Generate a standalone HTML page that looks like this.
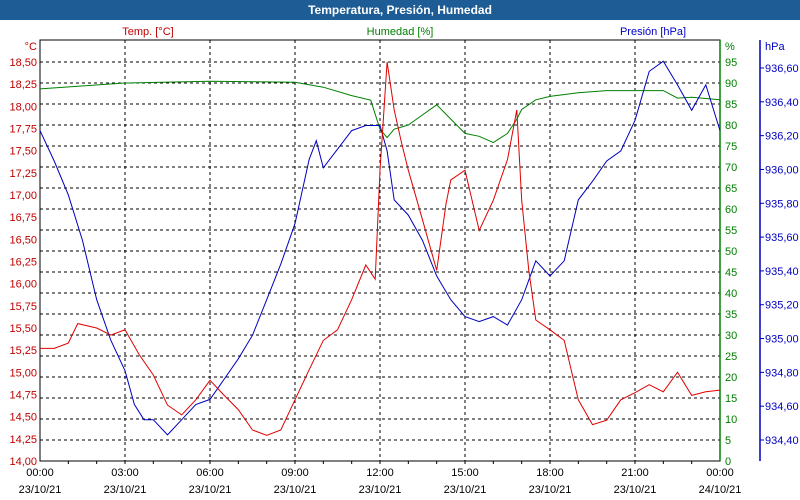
<!DOCTYPE html>
<html><head><meta charset="utf-8"><style>
body{margin:0;background:#fff;font-family:"Liberation Sans",sans-serif}
#wrap{width:800px;height:500px;position:relative;overflow:hidden;background:#fff}
#title{position:absolute;left:0;top:0;width:800px;height:20px;background:#1d5c94;color:#fff;font-weight:bold;font-size:12px;text-align:center;line-height:20px}
svg{position:absolute;left:0;top:0}
text{font-family:"Liberation Sans",sans-serif;font-size:11px}
</style></head><body>
<div id="wrap">
<div id="title">Temperatura, Presión, Humedad</div>
<svg id="c" width="800" height="500"></svg>
</div>
<script>
const tempHours=[0,0.5,1,1.33,2,2.5,3,3.5,4,4.5,5,5.5,6,6.5,7,7.5,8,8.5,9,9.5,10,10.5,11,11.5,11.83,12,12.25,12.5,12.75,13,13.5,14,14.33,14.5,15,15.5,16,16.5,16.83,17,17.25,17.5,18,18.5,19,19.5,20,20.5,21,21.5,22,22.5,23,23.5,24];
const tempValues=[15.27,15.27,15.33,15.55,15.5,15.42,15.48,15.2,14.97,14.63,14.52,14.69,14.91,14.74,14.58,14.35,14.29,14.35,14.69,15.03,15.36,15.48,15.82,16.21,16.05,17.28,18.5,17.96,17.6,17.28,16.72,16.15,16.9,17.17,17.28,16.6,16.94,17.4,17.96,16.94,16.15,15.59,15.48,15.36,14.69,14.41,14.46,14.69,14.77,14.86,14.78,15.0,14.74,14.78,14.8];
const humHours=[0,3,6,9,10,11,11.67,12,12.25,12.5,13,13.5,14,14.5,15,15.5,16,16.5,16.83,17,17.5,18,19,20,21,22,22.5,23,24];
const humValues=[88.6,90,90.4,90.2,89,87,85.9,79,77,79,80,82.4,84.8,81.4,78,77.3,75.8,78,81.4,83.7,86,86.8,87.7,88.2,88.2,88.2,86.4,86.6,86];
const presHours=[0,0.5,1,1.5,2,2.5,3,3.33,3.67,4,4.5,5,5.5,6,6.5,7,7.5,8,8.5,9,9.5,9.75,10,10.5,11,11.5,12,12.25,12.5,13,13.5,14,14.5,15,15.5,16,16.5,17,17.5,18,18.5,19,19.5,20,20.5,21,21.5,22,22.5,23,23.5,24];
const presValues=[936.23,936.05,935.85,935.58,935.23,934.99,934.81,934.61,934.52,934.52,934.43,934.52,934.61,934.64,934.76,934.88,935.02,935.23,935.44,935.68,936.06,936.17,936.01,936.12,936.23,936.26,936.26,936.11,935.82,935.73,935.58,935.37,935.23,935.13,935.1,935.13,935.08,935.23,935.46,935.37,935.46,935.82,935.93,936.05,936.11,936.29,936.58,936.64,936.5,936.35,936.5,936.23];
const tempTicks=[14,14.25,14.5,14.75,15,15.25,15.5,15.75,16,16.25,16.5,16.75,17,17.25,17.5,17.75,18,18.25,18.5];
const humTicks=[0,5,10,15,20,25,30,35,40,45,50,55,60,65,70,75,80,85,90,95];
const presTicks=[934.4,934.6,934.8,935.0,935.2,935.4,935.6,935.8,936.0,936.2,936.4,936.6];
const xTicks=[0,3,6,9,12,15,18,21,24];
const xDates=["23/10/21","23/10/21","23/10/21","23/10/21","23/10/21","23/10/21","23/10/21","23/10/21","24/10/21"];

const L=40,R=720,T=40,B=461;
const x=h=>L+h*(R-L)/24;
const yT=v=>B-(v-14)*(399/4.5);
const yH=v=>B-v*(399/95);
const yP=v=>440-(v-934.4)*(372/2.2);
const S=document.getElementById('c');
const NS='http://www.w3.org/2000/svg';
function mk(tag,attrs,txt){const e=document.createElementNS(NS,tag);for(const k in attrs)e.setAttribute(k,attrs[k]);if(txt!==undefined)e.textContent=txt;S.appendChild(e);return e;}
const fmt=(v,d)=>v.toFixed(d).replace('.',',');
for(const t of xTicks){if(t>0&&t<24){const g=mk('line',{x1:x(t),x2:x(t),y1:T,y2:B,stroke:'#000','stroke-dasharray':'3,3','stroke-width':1});

}}
for(const v of humTicks){if(v>0){const g=mk('line',{x1:L,x2:R,y1:yH(v),y2:yH(v),stroke:'#000','stroke-dasharray':'3,3','stroke-width':1});

}}
const fr=mk('rect',{x:L,y:T,width:R-L,height:B-T,fill:'none',stroke:'#000'});


mk('line',{x1:R,x2:R,y1:T,y2:B,stroke:'#008000','stroke-width':1.5});
mk('line',{x1:760,x2:760,y1:T,y2:B,stroke:'#0000c0','stroke-width':1.5});
for(let i=0;i<xTicks.length;i++){const t=xTicks[i];
const a=mk('text',{x:x(t),y:476,'text-anchor':'middle',fill:'#000'},(t%24===0?'00':String(t).padStart(2,'0'))+':00');


const b=mk('text',{x:x(t),y:493,'text-anchor':'middle',fill:'#000'},xDates[i]);

}
for(let h=1;h<24;h++)mk('line',{x1:x(h),x2:x(h),y1:B,y2:B+3,stroke:'#000'});
for(const v of tempTicks){const e=mk('text',{x:37,y:yT(v)+4,'text-anchor':'end',fill:'#c00000'},fmt(v,2));

}
for(const v of humTicks){const e=mk('text',{x:725,y:yH(v)+4,fill:'#008000'},String(v));

}
for(const v of presTicks){mk('line',{x1:760,x2:764,y1:yP(v),y2:yP(v),stroke:'#0000c0'});
const e=mk('text',{x:765,y:yP(v)+4,fill:'#0000c0'},fmt(v,2));

}
const u=[['°C',37,50,'end','#c00000','temp-unit'],['%',725,50,'start','#008000','hum-unit'],['hPa',765,50,'start','#0000c0','pres-unit'],
['Temp. [°C]',148,35,'middle','#c00000','temp-axis-title'],['Humedad [%]',400,35,'middle','#008000','hum-axis-title'],['Presión [hPa]',653,35,'middle','#0000c0','pres-axis-title']];
for(const a of u){const e=mk('text',{x:a[1],y:a[2],'text-anchor':a[3],fill:a[4]},a[0]);

}
function line(hs,vs,fy,col,name){const d=hs.map((h,i)=>(i?'L':'M')+x(h).toFixed(1)+','+fy(vs[i]).toFixed(1)).join('');
const p=mk('path',{d:d,fill:'none',stroke:col,'stroke-width':1});

}
line(humHours,humValues,yH,'#008000','humidity-line');
line(presHours,presValues,yP,'#0000c0','pressure-line');
line(tempHours,tempValues,yT,'#e00000','temperature-line');
</script>
</body></html>
